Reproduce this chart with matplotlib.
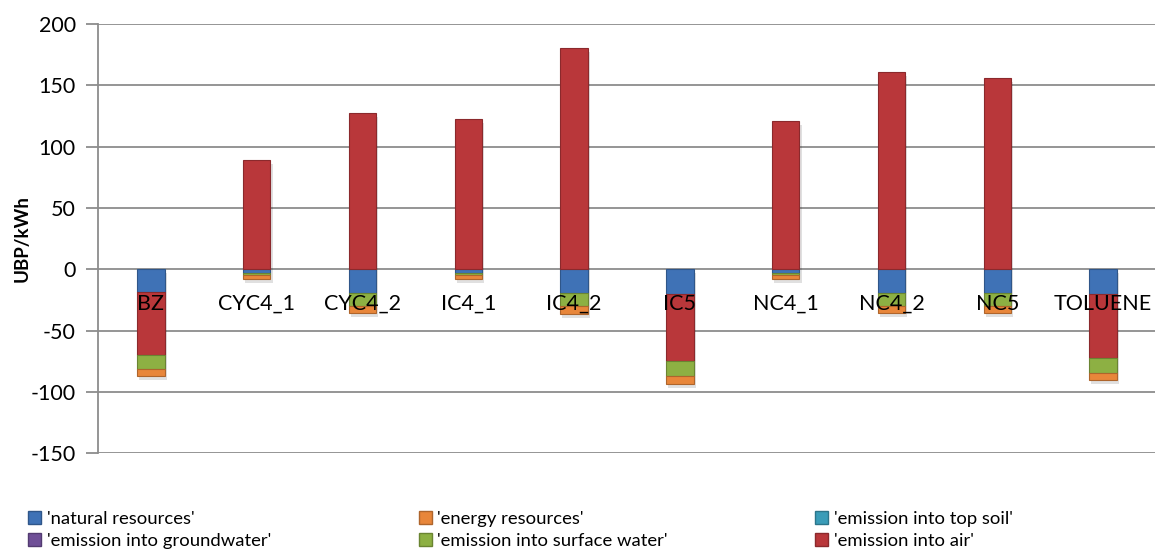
import numpy as np
import matplotlib

matplotlib.use('Agg')
import matplotlib.pyplot as plt
from matplotlib.patches import Patch
from matplotlib.transforms import ScaledTranslation

plt.rcParams['font.family'] = ['Lato', 'DejaVu Sans']
plt.rcParams['axes.unicode_minus'] = False

# values (UBP/kWh)
categories = ['BZ', 'CYC4_1', 'CYC4_2', 'IC4_1', 'IC4_2', 'IC5', 'NC4_1', 'NC4_2', 'NC5', 'TOLUENE']
natural_res = [-18.5, -3.0, -19.0, -3.0, -19.5, -20.3, -3.0, -19.0, -19.0, -20.5]
energy_res = [-5.5, -2.5, -5.5, -2.5, -6.3, -6.8, -2.5, -5.5, -5.5, -6.0]
top_soil = [0, 0, 0, 0, 0, 0, 0, 0, 0, 0]
groundwater = [0, 0, 0, 0, 0, 0, 0, 0, 0, 0]
surface_water = [-12.0, -2.0, -11.0, -2.0, -10.8, -12.2, -2.0, -11.0, -11.0, -12.2]
air = [-51.0, 89.5, 127.5, 122.5, 180.5, -54.3, 121.0, 161.0, 156.0, -51.6]

series = {
    "'natural resources'": (natural_res, '#3f72b6'),
    "'energy resources'": (energy_res, '#e8863a'),
    "'emission into top soil'": (top_soil, '#3a9cb8'),
    "'emission into groundwater'": (groundwater, '#6f4f97'),
    "'emission into surface water'": (surface_water, '#8db043'),
    "'emission into air'": (air, '#b9373a'),
}
# stacking order as it appears in the bars
stack_order = ["'natural resources'", "'emission into air'", "'emission into surface water'",
               "'energy resources'", "'emission into top soil'", "'emission into groundwater'"]


def darker(c, f=0.75):
    rgb = np.array(matplotlib.colors.to_rgb(c))
    return tuple(rgb * f)


fig = plt.figure(figsize=(11.55, 5.49), dpi=100)
ax = fig.add_axes([98 / 1155, 1 - 453.3 / 549, 1058 / 1155, (453.3 - 24) / 549])

x = np.arange(len(categories))
w = 0.26

pos_base = np.zeros(len(categories))
neg_base = np.zeros(len(categories))
for name in stack_order:
    vals = np.array(series[name][0], dtype=float)
    pos_base += np.where(vals > 0, vals, 0)
    neg_base += np.where(vals < 0, vals, 0)

# soft drop shadow behind each column
shadow = ax.transData + ScaledTranslation(1.5 / 72, -3 / 72, fig.dpi_scale_trans)
ax.bar(x, pos_base - neg_base, w, bottom=neg_base, color='#000000', alpha=0.12,
       transform=shadow, zorder=2, linewidth=0)

pos = np.zeros(len(categories))
neg = np.zeros(len(categories))
for name in stack_order:
    vals = np.array(series[name][0], dtype=float)
    col = series[name][1]
    bottoms = np.where(vals >= 0, pos, neg)
    keep = vals != 0
    if keep.any():
        ax.bar(x[keep], vals[keep], w, bottom=bottoms[keep], color=col,
               edgecolor=darker(col), linewidth=0.8, zorder=3)
    pos += np.where(vals > 0, vals, 0)
    neg += np.where(vals < 0, vals, 0)

# category labels sit just below the zero line
for xi, lab in zip(x, categories):
    ax.text(xi, -28, lab, ha='center', va='center', fontsize=15.5, color='black', zorder=5)

ax.set_xlim(-0.5, len(categories) - 0.5)
ax.set_ylim(-150, 200)
ax.set_yticks(np.arange(-150, 201, 50))
ax.set_xticks([])
ax.yaxis.grid(True, color='#8c8c8c', linewidth=1.3, zorder=0)
ax.set_axisbelow(True)
for s in ['top', 'right', 'bottom']:
    ax.spines[s].set_visible(False)
ax.spines['left'].set_color('#8c8c8c')
ax.spines['left'].set_linewidth(1.3)
ax.tick_params(axis='y', length=9, width=1.3, color='#8c8c8c', labelsize=15.5, pad=7)
ax.set_ylabel('UBP/kWh', fontsize=13.5, fontweight='bold')
ax.yaxis.set_label_coords(-0.064, 0.5)

names = list(series.keys())
# legend is filled column by column, so interleave to get row order
legend_order = [names[0], names[3], names[1], names[4], names[2], names[5]]
handles = [Patch(facecolor=series[n][1], edgecolor=darker(series[n][1])) for n in legend_order]
fig.legend(handles, legend_order, ncol=3, loc='lower left', bbox_to_anchor=(0.01, -0.03),
           frameon=False, fontsize=13.3, handlelength=0.7, handleheight=0.7,
           handletextpad=0.3, columnspacing=8.0, labelspacing=0.3)

fig.savefig('out.png', dpi=100)
